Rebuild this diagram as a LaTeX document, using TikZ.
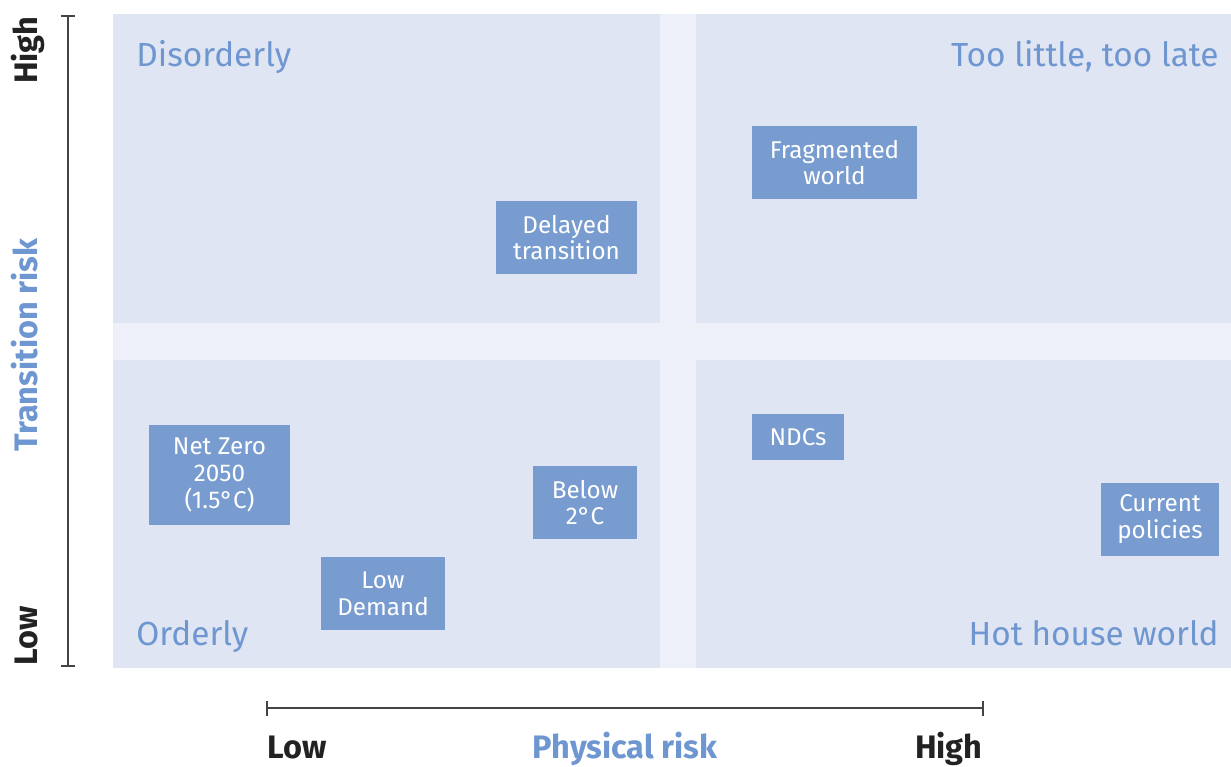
\documentclass[tikz,border=0pt]{standalone}
\usepackage{fontspec}
\setmainfont{Fira Sans}
\usepackage{tikz}

\definecolor{quad}{HTML}{DFE5F2}
\definecolor{gap}{HTML}{EDF0F8}
\definecolor{scen}{HTML}{789CCF}
\definecolor{lbl}{HTML}{6E96D0}
\definecolor{axis}{HTML}{444444}
\definecolor{ink}{HTML}{222222}

\begin{document}
\begin{tikzpicture}[x=0.02cm, y=-0.02cm,
  scenario/.style={fill=scen, text=white, align=center, inner sep=0pt,
    font=\fontsize{13.8}{15.3}\selectfont},
  quadlabel/.style={text=lbl, inner sep=0pt, font=\fontsize{19}{22}\selectfont},
  axislabel/.style={text=ink, inner sep=0pt, font=\fontsize{18.5}{21}\selectfont\bfseries},
  axisline/.style={draw=axis, line width=0.9pt}]
\useasboundingbox (0,0) rectangle (1231,767);

% quadrants
\fill[gap] (113,14) rectangle (1231,668);
\fill[quad] (113,14) rectangle (660,323);
\fill[quad] (696,14) rectangle (1231,323);
\fill[quad] (113,360) rectangle (660,668);
\fill[quad] (696,360) rectangle (1231,668);

\node [quadlabel, anchor=base west] (dis) at (136,67) {Disorderly};
\node [quadlabel, anchor=base east] (late) at (1219,67) {Too little, too late};
\node [quadlabel, anchor=base west] (ord) at (136,645) {Orderly};
\node [quadlabel, anchor=base east] (hot) at (1219,645) {Hot house world};

% scenarios
\node [scenario, minimum width=3.30cm, minimum height=1.46cm] (frag) at (834.5,162.5) {Fragmented\\world};
\node [scenario, minimum width=2.82cm, minimum height=1.46cm] (delay) at (566.5,237.5) {Delayed\\transition};
\node [scenario, minimum width=2.82cm, minimum height=2.00cm] (nz) at (219.5,475) {Net Zero\\2050\\(1.5°C)};
\node [scenario, minimum width=2.08cm, minimum height=1.46cm] (below) at (585,502.5) {Below\\2°C};
\node [scenario, minimum width=2.48cm, minimum height=1.46cm] (lowdem) at (383,593.5) {Low\\Demand};
\node [scenario, minimum width=1.84cm, minimum height=0.92cm] (ndc) at (798,437) {NDCs};
\node [scenario, minimum width=2.36cm, minimum height=1.46cm] (cur) at (1160,519.5) {Current\\policies};

% transition risk axis
\coordinate (ytop) at (68,16);
\coordinate (ybot) at (68,666);
\draw[axisline] (ytop) -- (ybot);
\draw[axisline] ([xshift=-0.15cm]ytop) -- ([xshift=0.15cm]ytop);
\draw[axisline] ([xshift=-0.15cm]ybot) -- ([xshift=0.15cm]ybot);
\node [axislabel, rotate=90, anchor=base east] (yhigh) at (37,16) {High};
\node [axislabel, rotate=90, anchor=base west] (ylow) at (37,666) {Low};
\node [axislabel, text=lbl, rotate=90, anchor=base] (ytitle) at (37,345) {Transition risk};

% physical risk axis
\coordinate (xleft) at (267,708);
\coordinate (xright) at (983,708);
\draw[axisline] (xleft) -- (xright);
\draw[axisline] ([yshift=-0.15cm]xleft) -- ([yshift=0.15cm]xleft);
\draw[axisline] ([yshift=-0.15cm]xright) -- ([yshift=0.15cm]xright);
\node [axislabel, anchor=base west] (xlow) at (267,758) {Low};
\node [axislabel, anchor=base east] (xhigh) at (983,758) {High};
\node [axislabel, text=lbl, anchor=base] (xtitle) at (625,758) {Physical risk};
\end{tikzpicture}
\end{document}
